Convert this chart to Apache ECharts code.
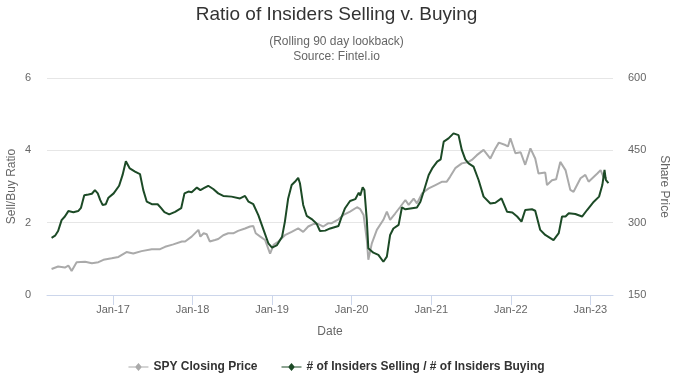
<!DOCTYPE html>
<html>
<head>
<meta charset="utf-8">
<script src="https://cdn.jsdelivr.net/npm/echarts@6/dist/echarts.min.js"></script>
<style>
  html, body { margin: 0; padding: 0; background: #fff; }
  #chart { width: 673px; height: 375px; }
</style>
</head>
<body>
<div id="chart"></div>
<script>
// SPY closing price (right axis)
const spyDates = [
  '2016-03-25','2016-04-24','2016-05-25','2016-06-10','2016-06-25','2016-07-18','2016-08-26','2016-09-26',
  '2016-10-26','2016-11-18','2016-12-26','2017-01-26','2017-03-04','2017-04-04','2017-05-12','2017-06-28',
  '2017-08-05','2017-08-28','2017-10-05','2017-11-13','2017-11-28','2017-12-28','2018-01-28','2018-02-06',
  '2018-02-21','2018-03-07','2018-03-21','2018-04-14','2018-04-29','2018-05-22','2018-06-14','2018-07-07',
  '2018-07-29','2018-08-30','2018-09-22','2018-10-07','2018-10-18','2018-11-08','2018-11-30','2018-12-23',
  '2019-01-08','2019-01-30','2019-03-01','2019-04-01','2019-05-01','2019-05-24','2019-06-16','2019-07-09',
  '2019-08-02','2019-08-24','2019-09-17','2019-10-02','2019-11-02','2019-11-25','2019-12-25','2020-01-26',
  '2020-02-10','2020-02-25','2020-03-11','2020-03-18','2020-04-03','2020-04-26','2020-05-26','2020-06-11',
  '2020-06-26','2020-07-19','2020-08-12','2020-09-04','2020-09-19','2020-10-12','2020-10-27','2020-11-20',
  '2020-12-20','2021-01-20','2021-02-20','2021-03-13','2021-03-28','2021-04-21','2021-05-21','2021-06-21',
  '2021-07-06','2021-07-29','2021-08-29','2021-09-29','2021-10-22','2021-11-07','2021-12-07','2021-12-19',
  '2021-12-30','2022-01-22','2022-02-15','2022-03-08','2022-04-01','2022-04-23','2022-05-08','2022-06-08',
  '2022-06-16','2022-07-09','2022-07-28','2022-08-16','2022-09-09','2022-09-16','2022-10-01','2022-10-16',
  '2022-11-17','2022-12-09','2022-12-24','2023-02-02','2023-02-17','2023-03-02','2023-03-17'
];
const spyPrices = [
  204, 209, 207, 211, 200, 218, 219, 216,
  218, 223, 226, 229, 239, 236, 241, 245,
  245, 250, 255, 261, 261, 271, 285, 271,
  278, 276, 261, 264, 266, 274, 278, 278,
  283, 288, 292, 293, 278, 271, 264, 236,
  254, 261, 274, 281, 288, 281, 292, 297,
  297, 292, 299, 299, 307, 316, 323, 332,
  328, 316, 264, 223, 257, 285, 306, 323,
  306, 319, 333, 347, 337, 350, 340, 361,
  371, 378, 385, 385, 395, 413, 423, 426,
  430, 440, 451, 433, 454, 466, 461, 458,
  475, 444, 446, 420, 454, 433, 402, 404,
  378, 388, 390, 426, 409, 405, 368, 364,
  392, 399, 385, 402, 409, 395, 392
];

// # of insiders selling / # of insiders buying (left axis)
const ratioDates = [
  '2016-03-25','2016-04-10','2016-04-24','2016-05-10','2016-05-25','2016-06-10','2016-07-03','2016-07-25',
  '2016-08-07','2016-08-22','2016-09-10','2016-09-26','2016-10-10','2016-10-23','2016-11-03','2016-11-14',
  '2016-11-29','2016-12-11','2017-01-04','2017-01-29','2017-02-14','2017-03-01','2017-03-19','2017-04-12',
  '2017-05-05','2017-05-20','2017-06-05','2017-06-28','2017-07-25','2017-08-10','2017-08-25','2017-09-16',
  '2017-10-13','2017-11-10','2017-11-25','2017-12-13','2017-12-28','2018-01-21','2018-02-06','2018-02-24',
  '2018-03-14','2018-04-06','2018-04-29','2018-05-22','2018-06-29','2018-08-07','2018-08-30','2018-09-15',
  '2018-10-07','2018-10-30','2018-11-23','2018-12-15','2019-01-01','2019-01-24','2019-02-16','2019-03-01',
  '2019-03-16','2019-04-01','2019-04-16','2019-05-01','2019-05-09','2019-05-24','2019-06-09','2019-07-02',
  '2019-07-24','2019-08-09','2019-09-02','2019-09-25','2019-11-02','2019-11-17','2019-12-02','2019-12-25',
  '2020-01-18','2020-02-03','2020-02-10','2020-02-21','2020-02-29','2020-03-11','2020-03-18','2020-04-10',
  '2020-05-03','2020-05-26','2020-06-11','2020-06-26','2020-07-11','2020-08-04','2020-08-19','2020-09-04',
  '2020-10-05','2020-10-27','2020-11-12','2020-11-27','2020-12-20','2021-01-05','2021-01-28','2021-02-13',
  '2021-02-27','2021-03-21','2021-04-13','2021-05-06','2021-05-21','2021-06-06','2021-06-21','2021-07-14',
  '2021-08-06','2021-08-29','2021-09-29','2021-10-22','2021-11-19','2021-12-15','2022-01-08','2022-01-30',
  '2022-02-19','2022-03-08','2022-04-08','2022-04-23','2022-05-16','2022-06-08','2022-07-16','2022-08-09',
  '2022-08-24','2022-09-09','2022-09-24','2022-10-24','2022-11-24','2022-12-17','2023-01-17','2023-02-10',
  '2023-02-25','2023-03-07','2023-03-13','2023-03-25'
];
const ratioValues = [
  1.58, 1.64, 1.77, 2.07, 2.17, 2.32, 2.29, 2.32,
  2.41, 2.76, 2.78, 2.80, 2.90, 2.81, 2.63, 2.49,
  2.51, 2.69, 2.81, 3.02, 3.32, 3.70, 3.50, 3.41,
  3.34, 2.90, 2.58, 2.51, 2.51, 2.40, 2.29, 2.23,
  2.30, 2.40, 2.81, 2.86, 2.84, 2.97, 2.90, 2.96,
  3.02, 2.93, 2.81, 2.74, 2.72, 2.67, 2.74, 2.58,
  2.51, 2.21, 1.80, 1.43, 1.31, 1.38, 1.61, 2.03,
  2.67, 3.04, 3.13, 3.24, 3.09, 2.49, 2.19, 2.10,
  1.98, 1.77, 1.78, 1.84, 1.91, 2.17, 2.40, 2.60,
  2.65, 2.83, 2.75, 2.98, 2.90, 2.07, 1.29, 1.17,
  1.11, 0.92, 1.06, 1.66, 1.84, 1.94, 2.42, 2.37,
  2.40, 2.42, 2.58, 2.86, 3.32, 3.50, 3.69, 3.75,
  4.24, 4.33, 4.47, 4.42, 4.01, 3.75, 3.64, 3.55,
  3.18, 2.72, 2.53, 2.55, 2.67, 2.30, 2.28, 2.17,
  2.03, 2.35, 2.37, 2.33, 1.80, 1.66, 1.52, 1.71,
  2.17, 2.17, 2.26, 2.24, 2.17, 2.35, 2.58, 2.72,
  3.04, 3.46, 3.18, 3.09
];

const tickDates = ['2017-01-01','2018-01-01','2019-01-01','2020-01-01','2021-01-01','2022-01-01','2023-01-01'];
const tickLabels = ['Jan-17','Jan-18','Jan-19','Jan-20','Jan-21','Jan-22','Jan-23'];

const font = '"Liberation Sans", Arial, sans-serif';
const toTime = d => new Date(d + 'T00:00:00Z').getTime();
const tickTimes = tickDates.map(toTime);
const legendIcon = 'path://M0,4.5 L7,4.5 L10,1 L13,4.5 L20,4.5 L20,5.5 L13,5.5 L10,9 L7,5.5 L0,5.5 Z';

const chart = echarts.init(document.getElementById('chart'));
chart.setOption({
  animation: false,
  textStyle: { fontFamily: font },
  title: {
    text: 'Ratio of Insiders Selling v. Buying',
    subtext: '(Rolling 90 day lookback)\nSource: Fintel.io',
    left: 'center',
    top: 0,
    itemGap: 10,
    textStyle: { fontFamily: font, fontSize: 19, fontWeight: 'normal', color: '#333' },
    subtextStyle: { fontFamily: font, fontSize: 12, color: '#666', lineHeight: 15, align: 'center' }
  },
  grid: { left: 47, right: 60, top: 78, bottom: 80, outerBoundsMode: 'none', containLabel: false },
  legend: {
    top: 356,
    left: 'center',
    itemWidth: 20,
    itemHeight: 10,
    itemGap: 24,
    textStyle: { fontFamily: font, fontSize: 12, fontWeight: 'bold', color: '#333' },
    data: [
      { name: 'SPY Closing Price', icon: legendIcon },
      { name: '# of Insiders Selling / # of Insiders Buying', icon: legendIcon }
    ]
  },
  xAxis: {
    type: 'value',
    min: toTime('2016-03-04'),
    max: toTime('2023-04-15'),
    name: 'Date',
    nameLocation: 'middle',
    nameGap: 31,
    nameMoveOverlap: false,
    nameTextStyle: { color: '#666', fontSize: 12, fontFamily: font },
    axisLine: { lineStyle: { color: '#ccd6eb', width: 1 } },
    axisTick: { show: true, length: 10, lineStyle: { color: '#ccd6eb' }, customValues: tickTimes },
    axisLabel: {
      color: '#666', fontSize: 11, margin: 9, fontFamily: font,
      customValues: tickTimes,
      formatter: v => tickLabels[tickTimes.indexOf(v)] || ''
    },
    splitLine: { show: false }
  },
  yAxis: [
    {
      type: 'value',
      min: 0, max: 6, interval: 2,
      name: 'Sell/Buy Ratio',
      nameLocation: 'middle',
      nameGap: 29,
      nameRotate: 90,
      nameMoveOverlap: false,
      nameTextStyle: { color: '#666', fontSize: 12, fontFamily: font },
      axisLine: { show: false },
      axisTick: { show: false },
      axisLabel: { color: '#666', fontSize: 11, margin: 16, fontFamily: font },
      splitLine: { lineStyle: { color: '#e6e6e6' } }
    },
    {
      type: 'value',
      min: 150, max: 600, interval: 150,
      name: 'Share Price',
      nameLocation: 'middle',
      nameGap: 45,
      nameRotate: -90,
      nameMoveOverlap: false,
      nameTextStyle: { color: '#666', fontSize: 12, fontFamily: font },
      axisLine: { show: false },
      axisTick: { show: false },
      axisLabel: { color: '#666', fontSize: 11, margin: 15, fontFamily: font },
      splitLine: { show: false }
    }
  ],
  series: [
    {
      name: 'SPY Closing Price',
      type: 'line',
      yAxisIndex: 1,
      showSymbol: false,
      color: '#aaaaaa',
      lineStyle: { width: 2, color: '#aaaaaa' },
      data: spyDates.map((d, i) => [toTime(d), spyPrices[i]])
    },
    {
      name: '# of Insiders Selling / # of Insiders Buying',
      type: 'line',
      yAxisIndex: 0,
      showSymbol: false,
      color: '#1c4a26',
      lineStyle: { width: 2, color: '#1c4a26' },
      data: ratioDates.map((d, i) => [toTime(d), ratioValues[i]])
    }
  ]
});
</script>
</body>
</html>
